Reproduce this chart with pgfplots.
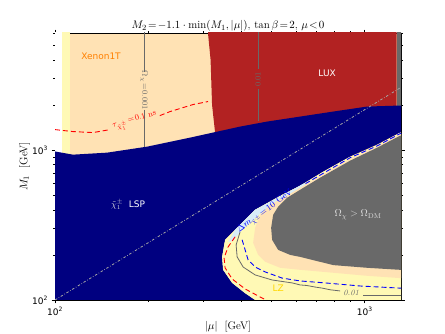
\documentclass[border=0pt]{standalone}
\usepackage{pgfplots}
\pgfplotsset{compat=1.18}
\usepackage{fontspec}
\newfontfamily\dejavu{DejaVu Sans}
\definecolor{navyc}{HTML}{000080}
\definecolor{firebr}{HTML}{B22222}
\definecolor{wheatc}{HTML}{FFE2B4}
\definecolor{lzc}{HTML}{FFF9B5}
\definecolor{grayc}{HTML}{696969}
\definecolor{lblue}{HTML}{D8ECF8}
\definecolor{lgray}{HTML}{DDDDDD}
\begin{document}
\begin{tikzpicture}
\begin{axis}[
  width=346pt, height=267pt, scale only axis,
  xmode=log, ymode=log,
  xmin=100, xmax=1310, ymin=100, ymax=6050,
  xtick={100,1000}, xticklabels={10\textsuperscript{2},10\textsuperscript{3}},
  ytick={100,1000}, yticklabels={10\textsuperscript{2},10\textsuperscript{3}},
  minor xtick={200,300,400,500,600,700,800,900},
  minor ytick={200,300,400,500,600,700,800,900,2000,3000,4000,5000,6000},
  tick align=outside,
  major tick length=3.5pt, minor tick length=2pt,
  tick style={black, line width=0.5pt},
  tick label style={font=\dejavu\fontsize{9}{10}\selectfont},
  axis line style={line width=0.7pt},
  axis background/.style={fill=wheatc},
  title={$M_2\!=\!-1.1\cdot\min(M_1,|\mu|)$, $\tan\beta\!=\!2$, $\mu\!<\!0$},
  title style={at={(axis description cs:0.5,1)}, anchor=base, yshift=-2pt, font=\fontsize{11}{13}\selectfont},
  xlabel={$|\mu|$\ \ [GeV]},
  xlabel style={at={(axis description cs:0.5,0)}, anchor=base, yshift=-30pt, font=\fontsize{11}{13}\selectfont},
  ylabel={$M_1$\ \ [GeV]},
  ylabel style={at={(axis description cs:-0.08,0.5)}, anchor=base, font=\fontsize{11}{13}\selectfont},
]
% upper-left strips
\addplot[fill=white, draw=none] coordinates {(90,90) (105.3,90) (105.3,7000) (90,7000)};
\addplot[fill=lzc, draw=none] coordinates {(105.3,90) (111.8,90) (111.8,7000) (105.3,7000)};
% LUX
\addplot[fill=firebr, draw=none] coordinates {(312,7000) (312,6000) (318,4000) (321.5,2000) (329,1300) (329,900) (1268,900) (1268,7000)};
% relic overabundant strip (top right)
\addplot[fill=grayc, draw=none] coordinates {(1268,1900) (1400,1900) (1400,7000) (1268,7000)};
% chargino LSP region
\addplot[fill=navyc, draw=none] coordinates {(90,980) (100,980) (114.3,933) (147.2,962) (198.3,1055) (273,1212) (396,1436) (484,1551) (791.2,1809) (1018.8,1954) (1302,1985) (1400,1990) (1400,1310) (1302,1310) (1097.5,1088) (897.7,905) (734.4,718) (618.9,579) (541.3,504) (442.9,400) (381.6,294) (354.2,252) (346.4,194) (349,159) (373.2,130) (411.1,111) (442.9,100) (460,90) (90,90)};
% LZ blob
\addplot[fill=lzc, draw=none] coordinates {(1400,1310) (1302,1310) (1097.5,1088) (897.7,905) (734.4,718) (618.9,579) (541.3,504) (442.9,400) (381.6,294) (354.2,252) (346.4,194) (349,159) (373.2,130) (411.1,111) (442.9,100) (460,90) (1400,90)};
% light blue band
\addplot[fill=lblue, draw=none] coordinates {(642.5,606) (561.8,520) (442.9,400) (381.6,294) (362.2,244) (375.9,248) (402,294) (459.6,376) (574.5,481) (642.5,553)};
% Xenon1T blob
\addplot[fill=wheatc, draw=none] coordinates {(1400,1280) (1302,1280) (1097.5,1064) (897.7,877) (718.2,675) (618.9,561) (553.5,489) (495.1,432) (459.6,370) (442.9,303) (436.3,241) (452.9,200) (477,180) (533.3,164) (618.9,159) (791.2,152) (1018.8,145) (1302,140) (1400,140)};
% Omega > Omega_DM blob
\addplot[fill=grayc, draw=none] coordinates {(1400,1250) (1302,1250) (1097.5,1039) (897.7,851) (718.2,655) (618.9,544) (561.8,481) (525.4,419) (506.3,370) (498.8,303) (502.5,252) (525.4,216) (574.5,200) (618.9,194) (791.2,171) (1018.8,164) (1302,159) (1400,159)};
% contours
\addplot[red, line width=0.9pt, dash pattern=on 5pt off 3pt] coordinates {(100,1371) (114.3,1330) (132.7,1310) (150.6,1371)};
\addplot[red, line width=0.9pt, dash pattern=on 5pt off 3pt] coordinates {(218,1700) (235.3,1809) (279.1,2015) (312,2110)};
\addplot[red, line width=0.9pt, dash pattern=on 5pt off 3pt] coordinates {(381.6,264) (362.2,226) (351.6,191) (354.2,164) (373.2,138.2) (411.1,118.5) (452.9,106.4) (487.8,98.5)};
\addplot[grayc, line width=0.8pt] coordinates {(194,7000) (194,3300)};
\addplot[grayc, line width=0.8pt] coordinates {(194,1866) (194,1050)};
\addplot[grayc, line width=0.8pt] coordinates {(452.9,7000) (452.9,3455)};
\addplot[grayc, line width=0.8pt] coordinates {(452.9,2540) (452.9,1565)};
\addplot[grayc, line width=0.8pt] coordinates {(396,285) (384.5,233) (387.4,194) (405,166) (442.9,147) (502.5,136) (583.2,130) (618.9,126) (650,125) (691.8,122) (730,120) (773.6,117) (833.5,114.9)};
\addplot[grayc, line width=0.8pt] coordinates {(988.9,108) (1400,108)};
\addplot[blue, line width=0.9pt, dash pattern=on 5pt off 3pt] coordinates {(1400,1295) (1302,1290) (1097.5,1068) (897.7,890) (734.4,700) (642.5,596)};
\addplot[blue, line width=0.9pt, dash pattern=on 5pt off 3pt] coordinates {(402,252) (411.1,216) (420.3,185) (442.9,166) (477,154) (541.3,140) (618.9,134) (745.5,130) (967.2,124) (1302,120) (1400,120)};
\addplot[gray!70, line width=0.8pt, dash pattern=on 2.5pt off 1.8pt on 0.6pt off 1.8pt] coordinates {(100,100) (1300,2598)};
% labels
\node[text=orange, font=\dejavu\fontsize{9}{10}\selectfont] at (axis cs:140.8,4221) {Xenon1T};
\node[text=white, font=\dejavu\fontsize{9}{10}\selectfont] at (axis cs:756.5,3249) {LUX};
\node[text=white, font=\dejavu\fontsize{9}{10}\selectfont] at (axis cs:172.2,432) {\textcolor{lgray}{$\tilde\chi_1^\pm$}\ \ LSP};
\node[text=lgray, font=\fontsize{10}{12}\selectfont] at (axis cs:952,370) {$\Omega_\chi>\Omega_{\rm DM}$};
\node[text={rgb,255:red,255;green,215;blue,0}, font=\dejavu\fontsize{9}{10}\selectfont] at (axis cs:525.4,120) {LZ};
\node[text=grayc, font=\fontsize{8}{9}\selectfont] at (axis cs:904.3,111.4) {\textit{0.01}};
\node[text=grayc, font=\fontsize{8}{9}\selectfont, rotate=-90] at (axis cs:194,2500) {$\Omega_\chi\!=\!0.001$};
\node[text=grayc, font=\fontsize{8}{9}\selectfont, rotate=90] at (axis cs:452.9,2965) {$0.01$};
\node[text=red, font=\fontsize{8}{9}\selectfont, rotate=16] at (axis cs:181.3,1551) {$\tau_{\tilde\chi_1^\pm}\!=\!0.1$ ns};
\node[text=blue, font=\fontsize{9}{10}\selectfont, rotate=36] at (axis cs:477,388) {$\Delta m_{\tilde\chi^\pm}\!=\!10$ GeV};
\end{axis}
\pgfresetboundingbox
\path (current axis.south west) ++(-55pt,-34pt) rectangle ++(445pt,334pt);
\end{tikzpicture}
\end{document}
